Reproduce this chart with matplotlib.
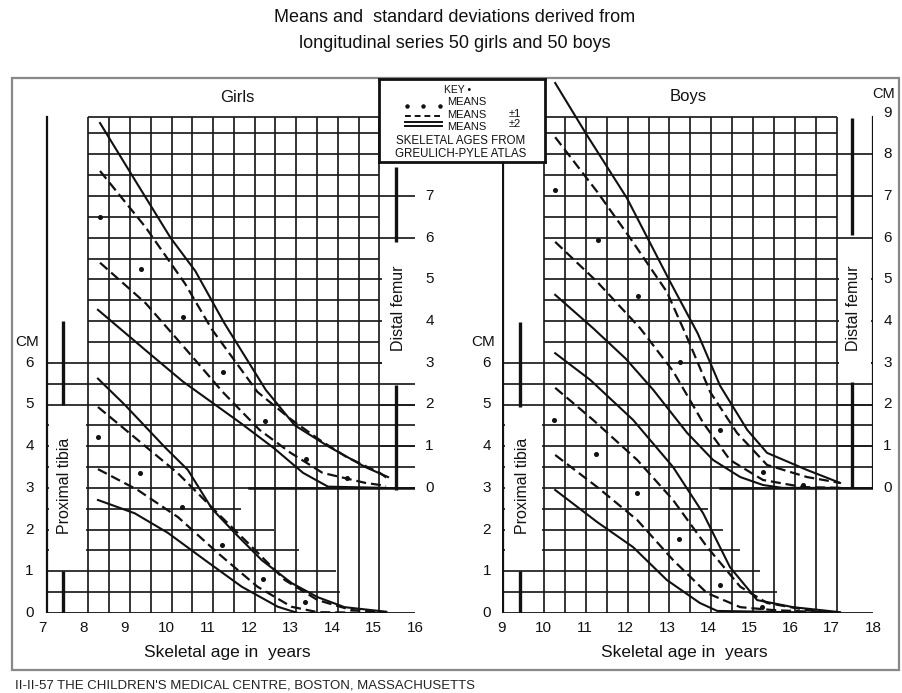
import matplotlib
matplotlib.use("Agg")
import matplotlib.pyplot as plt
from matplotlib.patches import Rectangle

plt.rcParams["font.family"] = ["Liberation Sans", "DejaVu Sans"]

FEMUR_ZERO = 3.0  # the femur scale starts at 3 cm on the tibia scale

# ---- girls, distal femur: (skeletal age, cm) ----
girls_femur_p2sd = [(8.4, 8.75), (9.2, 7.45), (10.1, 6.0), (10.7, 5.2), (11.4, 3.95),
                    (12.4, 2.35), (13.1, 1.5), (13.9, 1.0), (14.8, 0.5), (15.35, 0.26)]
girls_femur_p1sd = [(8.4, 7.6), (9.5, 6.25), (10.45, 4.9), (11.1, 3.8), (12.2, 2.3),
                    (13.0, 1.65), (13.7, 1.15), (14.35, 0.74), (15.15, 0.36), (15.35, 0.22)]
girls_femur_mean = [(8.4, 6.5), (9.4, 5.25), (10.4, 4.1), (11.36, 2.78), (12.37, 1.6),
                    (13.37, 0.7), (14.35, 0.24)]
girls_femur_m1sd = [(8.4, 5.4), (9.5, 4.43), (10.45, 3.35), (11.36, 2.3), (12.25, 1.39),
                    (13.0, 0.84), (13.77, 0.36), (14.8, 0.12), (15.3, 0.05)]
girls_femur_m2sd = [(8.35, 4.27), (9.5, 3.3), (10.4, 2.55), (11.8, 1.55), (12.6, 0.95),
                    (13.3, 0.36), (13.9, 0.03), (15.3, 0.0)]

# ---- girls, proximal tibia ----
girls_tibia_p2sd = [(8.35, 5.62), (9.0, 4.99), (9.96, 3.98), (10.52, 3.43), (11.1, 2.5),
                    (11.65, 1.92), (12.3, 1.27), (13.02, 0.72), (13.65, 0.38), (14.3, 0.14),
                    (15.31, 0.03)]
girls_tibia_p1sd = [(8.35, 4.94), (9.31, 4.15), (10.28, 3.35), (11.24, 2.39), (12.06, 1.59),
                    (12.86, 0.79), (13.65, 0.31), (14.47, 0.07), (15.3, 0.02)]
girls_tibia_mean = [(8.35, 4.22), (9.36, 3.36), (10.37, 2.54), (11.34, 1.63), (12.33, 0.81),
                    (13.34, 0.27)]
girls_tibia_m1sd = [(8.35, 3.45), (9.31, 2.95), (10.28, 2.3), (11.24, 1.44), (12.2, 0.63),
                    (13.02, 0.15), (13.65, 0.02), (15.3, 0.0)]
girls_tibia_m2sd = [(8.35, 2.71), (9.24, 2.39), (10.04, 1.92), (10.93, 1.27), (11.82, 0.63),
                    (12.69, 0.15), (13.17, 0.0), (15.3, 0.0)]

# ---- boys, distal femur ----
boys_femur_p2sd = [(10.29, 9.71), (11.06, 8.46), (12.03, 6.95), (13.08, 4.94), (13.75, 3.7),
                   (14.29, 2.45), (14.95, 1.39), (15.43, 0.84), (16.4, 0.43), (17.2, 0.12)]
boys_femur_p1sd = [(10.29, 8.41), (11.31, 7.1), (12.11, 5.99), (13.0, 4.7), (13.45, 3.7),
                   (14.05, 2.3), (14.7, 1.32), (15.43, 0.55), (16.4, 0.26), (17.2, 0.12)]
boys_femur_mean = [(10.29, 7.14), (11.33, 5.94), (12.3, 4.6), (13.32, 3.02), (14.29, 1.39),
                   (15.33, 0.38), (16.3, 0.07)]
boys_femur_m1sd = [(10.29, 5.9), (11.31, 4.94), (12.35, 3.83), (13.15, 2.8), (13.88, 1.56),
                   (14.53, 0.67), (15.33, 0.19), (16.3, 0.02), (17.2, 0.0)]
boys_femur_m2sd = [(10.29, 4.63), (11.21, 3.83), (12.0, 3.1), (12.67, 2.35), (13.49, 1.32),
                   (14.12, 0.67), (14.78, 0.26), (15.33, 0.07), (15.8, 0.0), (17.2, 0.0)]

# ---- boys, proximal tibia ----
boys_tibia_p2sd = [(10.29, 6.23), (11.14, 5.59), (12.18, 4.63), (13.15, 3.5), (13.88, 2.39),
                   (14.53, 1.1), (15.19, 0.31), (16.06, 0.14), (17.2, 0.02)]
boys_tibia_p1sd = [(10.29, 5.4), (11.21, 4.63), (12.28, 3.67), (13.15, 2.71), (13.97, 1.59),
                   (14.78, 0.63), (15.43, 0.24), (16.4, 0.07), (17.2, 0.0)]
boys_tibia_mean = [(10.26, 4.63), (11.28, 3.81), (12.28, 2.88), (13.3, 1.77), (14.29, 0.67),
                   (15.31, 0.14)]
boys_tibia_m1sd = [(10.29, 3.79), (11.31, 3.02), (12.28, 2.23), (13.15, 1.27), (13.97, 0.48),
                   (14.78, 0.14), (15.58, 0.07), (17.2, 0.0)]
boys_tibia_m2sd = [(10.29, 2.95), (11.31, 2.18), (12.18, 1.58), (13.0, 0.79), (13.8, 0.24),
                   (14.22, 0.05), (17.2, 0.0)]

girls_ages = list(range(7, 17))
boys_ages = list(range(9, 19))
tibia_ticks = list(range(0, 7))
girls_femur_ticks = list(range(0, 8))
boys_femur_ticks = list(range(0, 10))

# range bars (cm on each scale)
girls_tibia_bars = [(0, 1), (5, 7)]
girls_femur_bars = [(-0.05, 2.47), (5.9, 7.7)]
boys_tibia_bars = [(0, 1), (4.94, 6.98)]
boys_femur_bars = [(0, 2.54), (6.06, 8.87)]

W, H = 902, 693
fig = plt.figure(figsize=(W / 100, H / 100), dpi=100)
fig.patch.set_facecolor("white")

K = "#111111"
GRID = dict(color="#1c1c1c", lw=1.25, solid_capstyle="butt", zorder=1)


def fx(px):
    return px / W


def fy(py):
    return 1 - py / H


def make_axes(left_px, right_px, x0, x1):
    ax = fig.add_axes([fx(left_px), fy(613), (right_px - left_px) / W, 13 * 41.7 / H])
    ax.set_xlim(x0, x1)
    ax.set_ylim(0, 13)
    ax.set_axis_off()
    return ax


def draw_frame(ax, c):
    top = 11.9
    n = 15
    gx = [c["g0"] + i * (c["g1"] - c["g0"]) / (n - 1) for i in range(n)]
    for x in gx:
        ax.plot([x, x], [0, top], **GRID)
    for k in range(1, 24):
        t = k * 0.5
        if t < 3:
            a, b = c["left"], c["stairs"][t]
        elif t <= 6:
            a, b = c["left"], c["right"]
        else:
            a, b = c["g0"], c["g1"]
        ax.plot([a, b], [t, t], **GRID)
    ax.plot([c["g0"], c["g1"]], [top, top], **GRID)
    # femur ticks joining the grid to the right axis
    for f in range(0, 10):
        t = f + FEMUR_ZERO
        if t <= c["rtop"]:
            ax.plot([c["g1"], c["right"]], [t, t], **GRID)
    # femur zero line
    ax.plot([c["fem0"], c["right"]], [FEMUR_ZERO, FEMUR_ZERO], color=K, lw=1.8, zorder=3)
    # axis lines
    ax.plot([c["left"], c["right"]], [0, 0], color=K, lw=2.0, zorder=3, solid_capstyle="butt")
    ax.plot([c["left"], c["left"]], [0, c["ltop"]], color=K, lw=1.6, zorder=3)
    ax.plot([c["right"], c["right"]], [FEMUR_ZERO, c["rtop"]], color=K, lw=1.6, zorder=3)
    # white boxes behind the scale names
    ax.add_patch(Rectangle((c["left"] + 0.06, 1.2), c["g0"] - c["left"] - 0.12, 3.7,
                           facecolor="white", edgecolor="none", zorder=2))
    ax.add_patch(Rectangle((c["g1"] + 0.06, c["dfy"][0]), c["right"] - c["g1"] - 0.12,
                           c["dfy"][1] - c["dfy"][0], facecolor="white", edgecolor="none", zorder=2))


def draw_set(ax, curves, shift):
    p2, p1, mean, m1, m2 = curves
    for pts in (p2, m2):
        ax.plot([p[0] for p in pts], [p[1] + shift for p in pts], color=K, lw=1.5, zorder=4)
    for pts in (p1, m1):
        ax.plot([p[0] for p in pts], [p[1] + shift for p in pts], color=K, lw=1.6,
                dashes=(4.5, 2.2), zorder=4)
    ax.plot([p[0] for p in mean], [p[1] + shift for p in mean], "o", color=K, ms=2.6, zorder=4)


def draw_bars(ax, x, bars, shift):
    for a, b in bars:
        ax.plot([x, x], [a + shift, b + shift], color=K, lw=2.4, zorder=3, solid_capstyle="butt")


girls_cfg = dict(left=7.12, right=16.06, g0=8.12, g1=15.14, fem0=12.0, ltop=11.9, rtop=10.85,
                 stairs={0.5: 14.2, 1.0: 14.1, 1.5: 13.2, 2.0: 12.6, 2.5: 11.8}, dfy=(5.6, 8.6))
boys_cfg = dict(left=9.02, right=18.0, g0=10.02, g1=17.12, fem0=14.3, ltop=10.85, rtop=11.9,
                stairs={0.5: 15.67, 1.0: 15.26, 1.5: 14.78, 2.0: 14.37, 2.5: 14.0}, dfy=(5.6, 8.6))

axg = make_axes(42, 415, 7, 16)
axb = make_axes(502, 873, 9, 18)

draw_frame(axg, girls_cfg)
draw_frame(axb, boys_cfg)

draw_set(axg, [girls_femur_p2sd, girls_femur_p1sd, girls_femur_mean, girls_femur_m1sd,
               girls_femur_m2sd], FEMUR_ZERO)
draw_set(axg, [girls_tibia_p2sd, girls_tibia_p1sd, girls_tibia_mean, girls_tibia_m1sd,
               girls_tibia_m2sd], 0)
draw_set(axb, [boys_femur_p2sd, boys_femur_p1sd, boys_femur_mean, boys_femur_m1sd,
               boys_femur_m2sd], FEMUR_ZERO)
draw_set(axb, [boys_tibia_p2sd, boys_tibia_p1sd, boys_tibia_mean, boys_tibia_m1sd,
               boys_tibia_m2sd], 0)

draw_bars(axg, 7.5, girls_tibia_bars, 0)
draw_bars(axg, 15.55, girls_femur_bars, FEMUR_ZERO)
draw_bars(axb, 9.44, boys_tibia_bars, 0)
draw_bars(axb, 17.5, boys_femur_bars, FEMUR_ZERO)

# tick labels
for a in girls_ages:
    axg.text(a, -0.36, str(a), ha="center", va="center", fontsize=11, color=K)
for a in boys_ages:
    axb.text(a, -0.36, str(a), ha="center", va="center", fontsize=11, color=K)
for t in tibia_ticks:
    axg.text(6.7, t, str(t), ha="center", va="center", fontsize=11, color=K)
    axb.text(8.63, t, str(t), ha="center", va="center", fontsize=11, color=K)
for f in girls_femur_ticks:
    axg.text(16.35, f + FEMUR_ZERO, str(f), ha="center", va="center", fontsize=11, color=K)
for f in boys_femur_ticks:
    axb.text(18.35, f + FEMUR_ZERO, str(f), ha="center", va="center", fontsize=11, color=K)

axg.text(6.65, 6.5, "CM", ha="center", va="center", fontsize=11, color=K)
axb.text(8.55, 6.5, "CM", ha="center", va="center", fontsize=11, color=K)
axb.text(18.25, 12.45, "CM", ha="center", va="center", fontsize=10.5, color=K)

axg.text(7.55, 3.05, "Proximal tibia", rotation=90, ha="center", va="center", fontsize=11.5,
         color=K, zorder=5)
axb.text(9.5, 3.05, "Proximal tibia", rotation=90, ha="center", va="center", fontsize=11.5,
         color=K, zorder=5)
axg.text(15.6, 7.3, "Distal femur", rotation=90, ha="center", va="center", fontsize=11.5,
         color=K, zorder=5)
axb.text(17.53, 7.3, "Distal femur", rotation=90, ha="center", va="center", fontsize=11.5,
         color=K, zorder=5)

fig.text(fx(237), fy(97), "Girls", ha="center", va="center", fontsize=12, color=K)
fig.text(fx(688), fy(97), "Boys", ha="center", va="center", fontsize=12, color=K)
fig.text(fx(227), fy(653), "Skeletal age in  years", ha="center", va="center", fontsize=12.5, color=K)
fig.text(fx(684), fy(653), "Skeletal age in  years", ha="center", va="center", fontsize=12.5, color=K)

fig.text(fx(455), fy(18), "Means and  standard deviations derived from", ha="center",
         va="center", fontsize=13, color=K)
fig.text(fx(455), fy(43), "longitudinal series 50 girls and 50 boys", ha="center",
         va="center", fontsize=13, color=K)
fig.text(fx(15), fy(686), "II-II-57 THE CHILDREN'S MEDICAL CENTRE, BOSTON, MASSACHUSETTS",
         ha="left", va="center", fontsize=9.5, color="#222222")

# outer frame
fig.patches.append(Rectangle((fx(12), fy(670)), fx(899) - fx(12), fy(78) - fy(670),
                             transform=fig.transFigure, fill=False, edgecolor="#888888",
                             lw=1.6, zorder=0))

# key box
kax = fig.add_axes([fx(379), fy(162), (545 - 379) / W, (162 - 79) / H])
kax.set_xlim(379, 545)
kax.set_ylim(162, 79)
kax.set_xticks([])
kax.set_yticks([])
for s in kax.spines.values():
    s.set_linewidth(2.0)
    s.set_color(K)
kax.set_zorder(10)
kax.text(458, 90, "KEY •", ha="center", va="center", fontsize=7.5, color=K)
kax.plot([407, 423, 440], [106, 106, 106], "o", color=K, ms=2.2)
kax.plot([405, 442], [116, 116], color=K, lw=1.4, dashes=(3, 2))
kax.plot([405, 442], [122, 122], color=K, lw=1.4)
kax.plot([405, 442], [125.5, 125.5], color=K, lw=1.4)
for yy in (102, 115, 127):
    kax.text(447, yy, "MEANS", ha="left", va="center", fontsize=8, color=K)
kax.text(515, 114, "±1", ha="center", va="center", fontsize=8, color=K)
kax.text(515, 124, "±2", ha="center", va="center", fontsize=8, color=K)
kax.text(461, 141, "SKELETAL AGES FROM", ha="center", va="center", fontsize=8.3, color=K)
kax.text(461, 154, "GREULICH-PYLE ATLAS", ha="center", va="center", fontsize=8.3, color=K)

fig.savefig("out.png", dpi=100, facecolor="white")
